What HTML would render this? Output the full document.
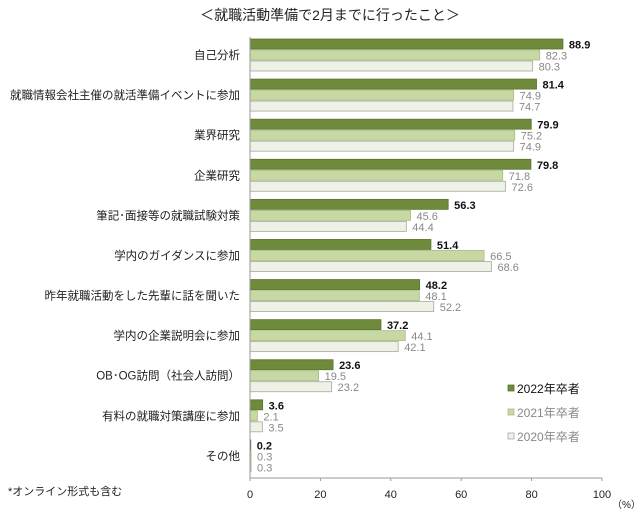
<!DOCTYPE html>
<html><head><meta charset="utf-8"><style>
body{margin:0;background:#fff;width:640px;height:512px;overflow:hidden;font-family:"Liberation Sans","Noto Sans CJK JP",sans-serif}
</style></head><body>
<svg id="c" width="640" height="512" xmlns="http://www.w3.org/2000/svg"></svg>
<script>
const categories=["自己分析","就職情報会社主催の就活準備イベントに参加","業界研究","企業研究","筆記･面接等の就職試験対策","学内のガイダンスに参加","昨年就職活動をした先輩に話を聞いた","学内の企業説明会に参加","OB･OG訪問（社会人訪問）","有料の就職対策講座に参加","その他"];
const s2022=[88.9,81.4,79.9,79.8,56.3,51.4,48.2,37.2,23.6,3.6,0.2];
const s2021=[82.3,74.9,75.2,71.8,45.6,66.5,48.1,44.1,19.5,2.1,0.3];
const s2020=[80.3,74.7,74.9,72.6,44.4,68.6,52.2,42.1,23.2,3.5,0.3];
const ticks=[0,20,40,60,80,100];
const seriesNames=["2022年卒者","2021年卒者","2020年卒者"];
const svg=document.getElementById('c');const NS="http://www.w3.org/2000/svg";
function mk(t,a,txt){const e=document.createElementNS(NS,t);for(const k in a)e.setAttribute(k,a[k]);if(txt!==undefined)e.textContent=txt;svg.appendChild(e);return e;}
const X0=250,X1=602,TOP=37,BOT=478,GH=(BOT-TOP)/categories.length;
const x=v=>X0+(X1-X0)*v/100;
let t=mk('text',{x:330,y:20,'font-size':14,'text-anchor':'middle',fill:'#222'},'＜就職活動準備で2月までに行ったこと＞');

const fills=['#6e8a3a','#c6d9a2','#eef1e6'],strokes=['#5a7430','#a9b98a','#a8a8a0'],lc=['#111','#888','#888'];
const series=[s2022,s2021,s2020];
categories.forEach((c,i)=>{
 const g0=TOP+i*GH;
 const l=mk('text',{x:240,y:g0+22,'font-size':11.5,'text-anchor':'end',fill:'#222'},c);
 
 series.forEach((s,j)=>{
  const y=g0+2+j*11;
  const r=mk('rect',{x:X0,y:y,width:Math.max(x(s[i])-X0,0.8),height:10,fill:fills[j],stroke:strokes[j],'stroke-width':0.8});
  
  const v=mk('text',{x:x(s[i])+6,y:y+9.5,'font-size':11,fill:lc[j],'font-weight':j==0?'bold':'normal'},s[i].toFixed(1));
  
 });
});
let ax=mk('line',{x1:X0,y1:BOT,x2:X1,y2:BOT,stroke:'#999'});
let ay=mk('line',{x1:X0,y1:TOP,x2:X0,y2:BOT,stroke:'#999'});
ticks.forEach(v=>{mk('line',{x1:x(v),y1:BOT,x2:x(v),y2:BOT+3,stroke:'#999'});
 const tl=mk('text',{x:x(v),y:BOT+20,'font-size':11,'text-anchor':'middle',fill:'#222'},String(v));
 });
let u=mk('text',{x:612,y:508,'font-size':10,fill:'#222'},'（%）');
seriesNames.forEach((n,j)=>{const y=393+j*24;
 const r=mk('rect',{x:508,y:y-8,width:6,height:6,fill:fills[j],stroke:strokes[j],'stroke-width':0.8});
 
 const lt=mk('text',{x:517,y:y,'font-size':12,fill:j==0?'#111':'#888'},n);
 });
let note=mk('text',{x:8,y:495,'font-size':11,fill:'#222'},'*オンライン形式も含む');
</script>
</body></html>
